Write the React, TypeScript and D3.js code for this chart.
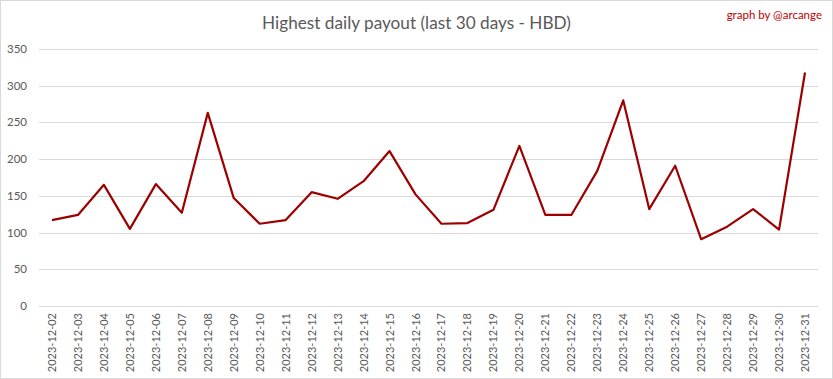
import React from "react";
import * as d3 from "d3";

const dates = [
  "2023-12-02","2023-12-03","2023-12-04","2023-12-05","2023-12-06","2023-12-07","2023-12-08","2023-12-09","2023-12-10","2023-12-11",
  "2023-12-12","2023-12-13","2023-12-14","2023-12-15","2023-12-16","2023-12-17","2023-12-18","2023-12-19","2023-12-20","2023-12-21",
  "2023-12-22","2023-12-23","2023-12-24","2023-12-25","2023-12-26","2023-12-27","2023-12-28","2023-12-29","2023-12-30","2023-12-31",
];
const payouts = [
  117, 124, 165, 105, 166, 127, 263, 147, 112, 117,
  155, 146, 170, 211, 152, 112, 113, 131, 218, 124,
  124, 184, 280, 132, 191, 91, 108, 132, 104, 318,
];
const yTicks = [0, 50, 100, 150, 200, 250, 300, 350];

const W = 833;
const H = 379;
const FONT = "Lato, 'Open Sans', sans-serif";

export default function App() {
  const x = d3.scaleBand<string>().domain(dates).range([39, 818]);
  const y = d3.scaleLinear().domain([0, 350]).range([306, 49]);
  const line = d3
    .line<number>()
    .x((_, i) => (x(dates[i]) as number) + x.bandwidth() / 2)
    .y((d) => y(d));

  return (
    <svg
      width={W}
      height={H}
      style={{ position: "absolute", left: 0, top: 0, display: "block" }}
      fontFamily={FONT}
    >
      <rect x={0.5} y={0.5} width={W - 1} height={H - 1} fill="#fff" stroke="#d9d9d9" />
      <text x={W / 2} y={29} textAnchor="middle" fontSize={17.2} fill="#595959">
        Highest daily payout (last 30 days - HBD)
      </text>
      <text x={822} y={19} textAnchor="end" fontSize={11.5} fill="#c00000">
        graph by @arcange
      </text>
      {yTicks.map((t) => (
        <g key={t}>
          <line x1={39} x2={818} y1={Math.round(y(t)) + 0.5} y2={Math.round(y(t)) + 0.5} stroke="#d9d9d9" strokeWidth={1} />
          <text x={27} y={y(t) + 4} textAnchor="end" fontSize={11.5} fill="#595959">
            {t}
          </text>
        </g>
      ))}
      {dates.map((d) => {
        const cx = (x(d) as number) + x.bandwidth() / 2;
        return (
          <text
            key={d}
            transform={`translate(${cx + 4},313) rotate(-90)`}
            textAnchor="end"
            fontSize={11}
            fill="#595959"
          >
            {d}
          </text>
        );
      })}
      <path d={line(payouts) || ""} fill="none" stroke="#9c0000" strokeWidth={2.2} strokeLinejoin="round" />
    </svg>
  );
}
